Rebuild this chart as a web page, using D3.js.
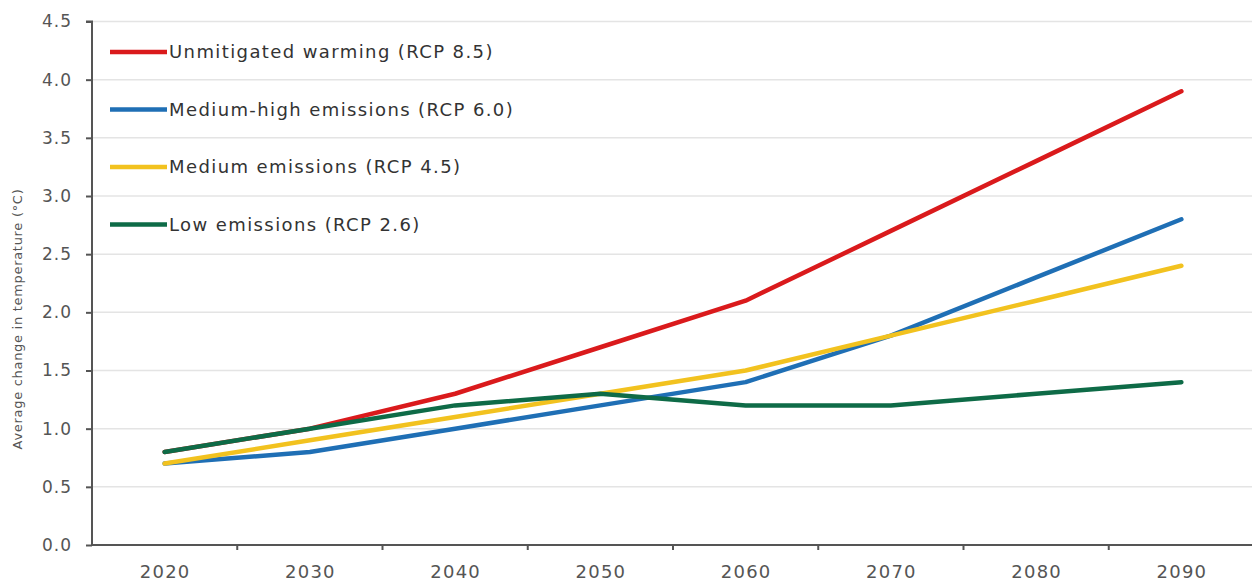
<!DOCTYPE html>
<html>
<head>
<meta charset="utf-8">
<script src="https://cdn.jsdelivr.net/npm/d3@7"></script>
<style>
  html, body { margin: 0; padding: 0; background: #fff; }
  svg { display: block; }
  text { font-family: "DejaVu Sans", sans-serif; }
</style>
</head>
<body>
<svg id="chart" width="1252" height="585"></svg>
<script>
// Projected warming by emissions pathway
const years = ["2020", "2030", "2040", "2050", "2060", "2070", "2080", "2090"];
const rcp85 = [0.8, 1.0, 1.3, 1.7, 2.1, 2.7, 3.3, 3.9];
const rcp60 = [0.7, 0.8, 1.0, 1.2, 1.4, 1.8, 2.3, 2.8];
const rcp45 = [0.7, 0.9, 1.1, 1.3, 1.5, 1.8, 2.1, 2.4];
const rcp26 = [0.8, 1.0, 1.2, 1.3, 1.2, 1.2, 1.3, 1.4];
const seriesNames = [
  "Unmitigated warming (RCP 8.5)",
  "Medium-high emissions (RCP 6.0)",
  "Medium emissions (RCP 4.5)",
  "Low emissions (RCP 2.6)"
];
const yTicks = [0, 0.5, 1.0, 1.5, 2.0, 2.5, 3.0, 3.5, 4.0, 4.5];
const yTitle = "Average change in temperature (°C)";

const colors = ["#da1a1c", "#1f6fb5", "#f2c21f", "#0e6b47"];
const series = [rcp85, rcp60, rcp45, rcp26].map((v, i) => ({
  name: seriesNames[i], color: colors[i], values: v
}));

const svg = d3.select("#chart");
const plotLeft = 92, plotRight = 1254, plotTop = 21.5, plotBottom = 545;

const x = d3.scalePoint().domain(years).range([plotLeft, plotRight]).padding(0.5);
const band = d3.scaleBand().domain(years).range([plotLeft, plotRight]);
const y = d3.scaleLinear().domain([0, 4.5]).range([plotBottom, plotTop]);

// horizontal gridlines
svg.append("g").selectAll("line")
  .data(yTicks.filter(d => d > 0))
  .join("line")
  .attr("x1", plotLeft).attr("x2", 1252)
  .attr("y1", d => y(d)).attr("y2", d => y(d))
  .attr("stroke", "#e4e4e4").attr("stroke-width", 1.5);

// y axis
const yAxis = svg.append("g")
  .attr("transform", `translate(${plotLeft},0)`)
  .call(d3.axisLeft(y).tickValues(yTicks).tickFormat(d3.format(".1f")).tickSize(6).tickPadding(14));
yAxis.select(".domain").attr("stroke", "#555").attr("stroke-width", 2).attr("d", `M-6,${plotTop}H0V${plotBottom}`);
yAxis.selectAll(".tick line").attr("stroke", "#555").attr("stroke-width", 2);
yAxis.selectAll(".tick text")
  .attr("fill", "#555").style("font-size", "17px").style("letter-spacing", "1px");

// x axis: labels at category centres, tick marks on category boundaries
const xAxis = svg.append("g")
  .attr("transform", `translate(0,${plotBottom})`)
  .call(d3.axisBottom(x).tickSize(0).tickPadding(20));
xAxis.select(".domain").attr("stroke", "#555").attr("stroke-width", 2).attr("d", `M${plotLeft},0H1252`);
xAxis.selectAll(".tick text")
  .attr("fill", "#555").style("font-size", "18px").style("letter-spacing", "1.2px");
xAxis.selectAll("line.bound")
  .data(years.slice(1))
  .join("line").attr("class", "bound")
  .attr("x1", d => band(d)).attr("x2", d => band(d))
  .attr("y1", 0).attr("y2", 5)
  .attr("stroke", "#555").attr("stroke-width", 2);

// y axis title
svg.append("text")
  .attr("transform", `translate(22,319) rotate(-90)`)
  .attr("text-anchor", "middle")
  .attr("fill", "#555")
  .style("font-size", "13px")
  .style("letter-spacing", "0.7px")
  .text(yTitle);

// series lines
const line = d3.line()
  .x((d, i) => x(years[i]))
  .y(d => y(d));

svg.append("g").selectAll("path")
  .data(series)
  .join("path")
  .attr("d", d => line(d.values))
  .attr("fill", "none")
  .attr("stroke", d => d.color)
  .attr("stroke-width", 4.5)
  .attr("stroke-linecap", "round")
  .attr("stroke-linejoin", "round");

// legend
const legend = svg.append("g").attr("transform", "translate(110,52)");
const row = legend.selectAll("g")
  .data(series)
  .join("g")
  .attr("transform", (d, i) => `translate(0,${i * 57.5})`);
row.append("line")
  .attr("x1", 0).attr("x2", 57)
  .attr("stroke", d => d.color).attr("stroke-width", 4.5);
row.append("text")
  .attr("x", 59).attr("dy", "0.36em")
  .attr("fill", "#333")
  .style("font-size", "18px")
  .style("letter-spacing", "1.4px")
  .text(d => d.name);
</script>
</body>
</html>
